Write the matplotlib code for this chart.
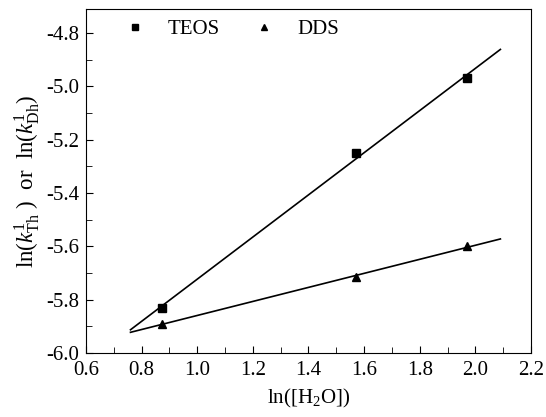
import numpy as np
import matplotlib
matplotlib.use("Agg")
import matplotlib.pyplot as plt
from matplotlib.ticker import MultipleLocator, FormatStrFormatter

plt.rcParams.update({"font.family": "Liberation Serif", "mathtext.fontset": "custom",
                     "mathtext.rm": "Liberation Serif", "mathtext.it": "Liberation Serif:italic",
                     "font.size": 15})

ln_h2o = [0.875, 1.57, 1.97]
teos = [-5.83, -5.25, -4.97]
dds = [-5.89, -5.715, -5.60]
fit_range = [0.76, 2.09]

fig = plt.figure(figsize=(5.46, 4.17), dpi=100)
ax = fig.add_axes([0.1575, 0.1535, 0.815, 0.8245])

xf = np.array(fit_range)
for y, mk, lab in [(teos, "s", "TEOS"), (dds, "^", "DDS")]:
    ax.plot(ln_h2o, y, ls="none", marker=mk, color="k", ms=5.5, label=lab)
    p = np.polyfit(ln_h2o, y, 1)
    ax.plot(xf, np.polyval(p, xf), color="k", lw=1.2)

ax.set_xlim(0.6, 2.2); ax.set_ylim(-6.0, -4.71)
ax.xaxis.set_major_locator(MultipleLocator(0.2)); ax.xaxis.set_minor_locator(MultipleLocator(0.1))
ax.yaxis.set_major_locator(MultipleLocator(0.2)); ax.yaxis.set_minor_locator(MultipleLocator(0.1))
ax.xaxis.set_major_formatter(FormatStrFormatter("%.1f"))
ax.yaxis.set_major_formatter(FormatStrFormatter("%.1f"))
ax.tick_params(which="both", direction="in", labelsize=15)
ax.tick_params(axis="x", pad=6)
ax.tick_params(axis="y", pad=5)
ax.tick_params(which="major", length=5)
ax.tick_params(which="minor", length=4)
ax.set_xlabel("ln([H$_2$O])", labelpad=5)
ax.set_ylabel("ln($k^1_{\\rm Th}$ )  or  ln($k^1_{\\rm Dh}$)", fontsize=16.5, labelpad=3)
ax.legend(loc="upper left", ncol=2, frameon=False, bbox_to_anchor=(0.03, 1.025),
          handletextpad=0.8, columnspacing=1.3, handlelength=1.6, fontsize=15, markerscale=0.85)
fig.savefig("out.png", dpi=100)
